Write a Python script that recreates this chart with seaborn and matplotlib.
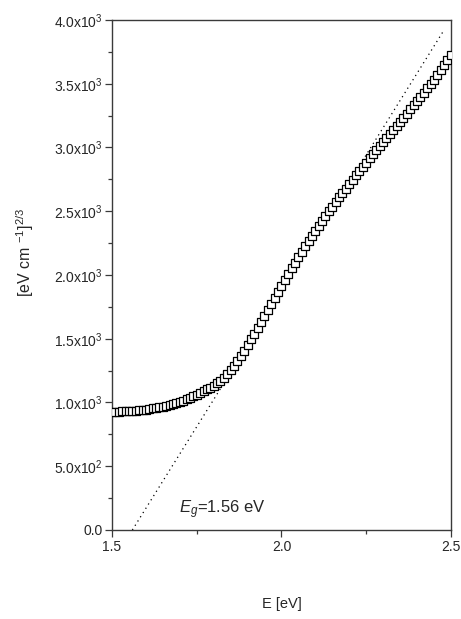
import numpy as np
import pandas as pd
import seaborn as sns
import matplotlib
matplotlib.use("Agg")
import matplotlib.pyplot as plt
from matplotlib.ticker import FuncFormatter, MultipleLocator

# Photon energy (eV) and Tauc quantity (eV cm^-1)^(2/3)
energy = [
    1.50, 1.51, 1.52, 1.53, 1.54, 1.55, 1.56, 1.57, 1.58, 1.59,
    1.60, 1.61, 1.62, 1.63, 1.64, 1.65, 1.66, 1.67, 1.68, 1.69,
    1.70, 1.71, 1.72, 1.73, 1.74, 1.75, 1.76, 1.77, 1.78, 1.79,
    1.80, 1.81, 1.82, 1.83, 1.84, 1.85, 1.86, 1.87, 1.88, 1.89,
    1.90, 1.91, 1.92, 1.93, 1.94, 1.95, 1.96, 1.97, 1.98, 1.99,
    2.00, 2.01, 2.02, 2.03, 2.04, 2.05, 2.06, 2.07, 2.08, 2.09,
    2.10, 2.11, 2.12, 2.13, 2.14, 2.15, 2.16, 2.17, 2.18, 2.19,
    2.20, 2.21, 2.22, 2.23, 2.24, 2.25, 2.26, 2.27, 2.28, 2.29,
    2.30, 2.31, 2.32, 2.33, 2.34, 2.35, 2.36, 2.37, 2.38, 2.39,
    2.40, 2.41, 2.42, 2.43, 2.44, 2.45, 2.46, 2.47, 2.48, 2.49,
    2.50,
]
tauc = [
    928, 928, 929, 930, 931, 932, 934, 936, 939, 942,
    945, 949, 953, 957, 962, 968, 974, 980, 987, 995,
    1003, 1013, 1024, 1035, 1047, 1060, 1073, 1087, 1102, 1117,
    1133, 1152, 1172, 1195, 1222, 1252, 1286, 1324, 1364, 1406,
    1450, 1495, 1541, 1587, 1634, 1681, 1728, 1775, 1822, 1869,
    1915, 1961, 2006, 2051, 2095, 2139, 2182, 2224, 2265, 2306,
    2346, 2385, 2424, 2462, 2499, 2536, 2572, 2608, 2643, 2678,
    2713, 2747, 2781, 2815, 2848, 2881, 2914, 2946, 2978, 3010,
    3042, 3074, 3106, 3138, 3170, 3202, 3234, 3266, 3298, 3331,
    3364, 3397, 3430, 3464, 3498, 3532, 3570, 3608, 3646, 3685,
    3725,
]

# Linear extrapolation of the absorption edge
fit_energy = [1.56, 2.48]
fit_tauc = [0, 3922]
gap_label = r"$E_g$=1.56 eV"

x_ticks = [1.5, 2.0, 2.5]
y_ticks = [0, 500, 1000, 1500, 2000, 2500, 3000, 3500, 4000]

sns.set_style("ticks")
plt.rcParams["font.family"] = ["Liberation Sans", "DejaVu Sans"]
plt.rcParams["mathtext.fontset"] = "custom"
plt.rcParams["mathtext.rm"] = "Liberation Sans"
plt.rcParams["mathtext.it"] = "Liberation Sans:italic"
plt.rcParams["mathtext.bf"] = "Liberation Sans:bold"

df = pd.DataFrame({"E": energy, "T": tauc})
fit_df = pd.DataFrame({"E": fit_energy, "T": fit_tauc})

fig = plt.figure(figsize=(4.61, 6.19), dpi=100)
ax = fig.add_axes([0.243, 0.1438, 0.735, 0.8239])

sns.lineplot(data=fit_df, x="E", y="T", ax=ax, color="black",
             linestyle=(0, (1, 3)), linewidth=0.9)
sns.scatterplot(data=df, x="E", y="T", ax=ax, marker="s", s=26,
                facecolor="white", edgecolor="black", linewidth=0.9,
                zorder=3)

ax.set_xlim(x_ticks[0], x_ticks[-1])
ax.set_ylim(y_ticks[0], y_ticks[-1])
ax.set_xticks(x_ticks)
ax.set_yticks(y_ticks)
ax.xaxis.set_minor_locator(MultipleLocator(0.25))
ax.yaxis.set_minor_locator(MultipleLocator(250))


def sci_fmt(v, pos):
    if v == 0:
        return "0.0"
    exp = int(np.floor(np.log10(abs(v))))
    mant = v / 10 ** exp
    return f"{mant:.1f}x10$^{{{exp}}}$"


ax.yaxis.set_major_formatter(FuncFormatter(sci_fmt))
ax.xaxis.set_major_formatter(FuncFormatter(lambda v, p: f"{v:.1f}"))

for side in ["left", "right", "top", "bottom"]:
    ax.spines[side].set_visible(True)
    ax.spines[side].set_color("#3a3a3a")
    ax.spines[side].set_linewidth(1.0)

ax.tick_params(axis="both", which="major", direction="out", length=5,
               width=0.9, color="#3a3a3a", labelsize=10, pad=2,
               top=False, right=False)
ax.tick_params(axis="both", which="minor", direction="out", length=2.6,
               width=0.9, color="#3a3a3a", top=False, right=False)

ax.set_xlabel("E [eV]", fontsize=10.5)
ax.xaxis.set_label_coords(0.5, -0.131)
ax.set_ylabel(r"[eV cm $^{-1}$]$^{2/3}$", fontsize=11.5)
ax.yaxis.set_label_coords(-0.225, 0.545)

ax.text(1.697, 133, gap_label, fontsize=12, ha="left", va="baseline")

fig.savefig("out.png", dpi=100)
